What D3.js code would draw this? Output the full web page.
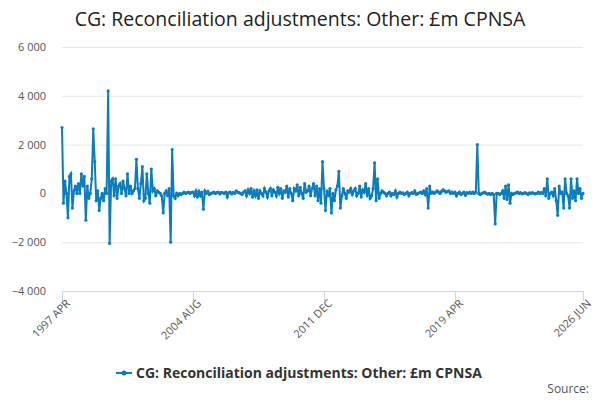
<!DOCTYPE html>
<html><head><meta charset="utf-8">
<script src="https://cdn.jsdelivr.net/npm/d3@7"></script>
<style>body{margin:0;background:#fff}text{font-family:"Open Sans","DejaVu Sans",sans-serif}</style>
</head><body><svg id="c" width="600" height="400"></svg>
<script>
const tickLabels = ["1997 APR","2004 AUG","2011 DEC","2019 APR","2026 JUN"];
const tickIndex = [0,88,176,264,350];
const yTicks = [-4000,-2000,0,2000,4000,6000];
const values = [
2700,-400,500,0,-1000,700,800,-600,100,300,0,400,
0,800,300,700,-1100,300,-200,0,600,2650,1300,-300,
100,-700,-200,0,-300,200,0,4200,-2050,500,600,-100,
600,-200,300,400,0,500,200,-100,800,0,300,0,
100,200,1400,200,-200,400,1100,-300,-200,800,0,-400,
1000,100,200,-100,100,50,0,-100,-800,0,100,-100,
200,-2000,1800,-100,-200,0,-100,0,-50,0,50,0,
30,50,0,40,50,-100,100,-150,80,-100,50,-650,
100,0,80,-50,0,20,50,0,30,50,-20,40,
20,0,50,-150,30,50,-20,40,0,100,50,30,
0,-50,50,100,-100,150,0,200,-150,100,-100,150,
-200,100,0,-100,200,50,-150,100,200,-100,150,50,
-100,250,0,200,-200,100,50,300,-150,200,0,-300,
200,100,350,-100,250,0,-200,400,50,100,300,-100,
200,400,-100,300,-300,200,-400,1300,200,-700,100,-100,
200,-800,0,-300,150,300,900,-600,-100,200,0,-200,
100,50,200,-50,100,200,-100,0,300,-150,150,50,
400,-100,200,-200,-100,200,1250,-300,600,-200,0,100,
50,0,-100,0,50,-100,0,-50,100,-150,0,50,
0,20,-50,0,50,-100,0,30,0,100,-50,0,
20,50,0,100,-50,200,-600,300,0,50,0,50,
100,50,0,80,150,100,50,80,100,0,50,0,
50,-100,0,50,-50,0,50,-80,30,0,50,0,
50,0,50,2000,0,-50,0,20,50,0,-30,0,
-50,0,-50,-1250,0,0,-50,0,100,-200,300,-250,
350,-400,0,-50,0,20,50,0,30,-20,0,30,
0,-50,20,0,30,0,-20,0,50,0,30,0,
200,-100,600,-200,0,50,-100,200,-300,-900,300,0,
50,-600,600,0,-100,-600,600,-200,100,-300,600,0,
200,-200,0];
const title = "CG: Reconciliation adjustments: Other: £m CPNSA";
const color = "#0a7dbf";

const svg = d3.select("#c");
const x = d3.scaleLinear().domain([0, values.length-1]).range([62, 583]);
const y = d3.scaleLinear().domain([-4000, 6000]).range([291, 47]);
const fmt = v => d3.format(",")(v).replace(/,/g, " ");

svg.append("text").attr("x",300).attr("y",26).attr("text-anchor","middle")
  .attr("font-size",19.5).attr("fill","#222").text(title);

const ya = svg.append("g").attr("transform","translate(62,0)")
  .call(d3.axisLeft(y).tickValues(yTicks).tickSize(-521).tickFormat(fmt));
ya.select(".domain").remove();
ya.selectAll("line").attr("stroke","#e6e6e6");
ya.selectAll("text").attr("x",-16).attr("font-size",11).attr("fill","#555");

const xa = svg.append("g").attr("transform","translate(0,291)")
  .call(d3.axisBottom(x).tickValues(tickIndex).tickSize(10).tickFormat((d,i)=>tickLabels[i]));
xa.select(".domain").attr("stroke","#ccd6eb");
xa.selectAll("line").attr("stroke","#ccd6eb");
xa.selectAll("text").attr("font-size",11).attr("fill","#555")
  .attr("text-anchor","end").attr("dx","-0.3em").attr("dy","0.2em")
  .attr("transform","rotate(-45)");

const line = d3.line().x((d,i)=>x(i)).y(d=>y(d));
svg.append("path").datum(values).attr("d",line).attr("fill","none")
  .attr("stroke",color).attr("stroke-width",2);
svg.append("g").selectAll("circle").data(values).join("circle")
  .attr("cx",(d,i)=>x(i)).attr("cy",d=>y(d)).attr("r",1.6).attr("fill",color);

const lg = svg.append("g").attr("transform","translate(116,373)");
lg.append("line").attr("x1",0).attr("x2",16).attr("y1",0).attr("y2",0).attr("stroke",color).attr("stroke-width",2);
lg.append("circle").attr("cx",8).attr("cy",0).attr("r",2.5).attr("fill",color);
lg.append("text").attr("x",20).attr("y",5).attr("font-size",14).attr("font-weight","bold")
  .attr("fill","#333").text(title);
svg.append("text").attr("x",589).attr("y",393).attr("text-anchor","end")
  .attr("font-size",12).attr("fill","#555").text("Source:");
</script></body></html>
